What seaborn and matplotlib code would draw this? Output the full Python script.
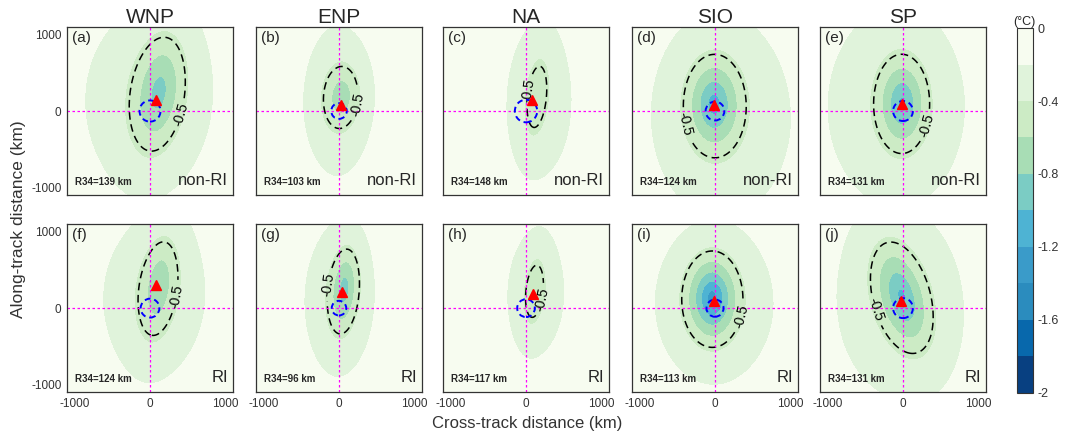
import numpy as np
import matplotlib
matplotlib.use("Agg")
import matplotlib.pyplot as plt
import seaborn as sns

sns.set_style("white")
plt.rcParams['font.family'] = ['Liberation Sans', 'DejaVu Sans']

# panel info (top row non-RI, bottom row RI)
regions = ['WNP', 'ENP', 'NA', 'SIO', 'SP']
tags = ['(a)', '(b)', '(c)', '(d)', '(e)', '(f)', '(g)', '(h)', '(i)', '(j)']
ri_labels = ['non-RI'] * 5 + ['RI'] * 5
r34_km = [139, 103, 148, 124, 131, 124, 96, 117, 113, 131]

# location of maximum cooling (red triangle), km
max_x = [76, 31, 76, -13, -9, 80, 44, 93, -18, -31]
max_y = [140, 75, 141, 75, 98, 298, 209, 187, 89, 98]

# inner cold core: amplitude (degC), centre, spreads (km), tilt of its axis
core_amp = [0.60, 0.44, 0.30, 0.80, 0.75, 0.47, 0.62, 0.30, 1.00, 0.75]
core_cx = [120, 35, 140, -15, -10, 120, 70, 110, -40, -15]
core_cy = [250, 190, 200, 90, 100, 300, 250, 230, 130, 150]
core_sx = [200, 160, 110, 200, 180, 160, 115, 100, 180, 193]
core_sy = [450, 270, 380, 332, 325, 430, 320, 330, 290, 380]
core_tilt = [0.12, 0.05, 0.1, 0.0, 0.0, 0.12, 0.08, 0.1, 0.0, -0.22]

# broad weak cooling around the core
halo_amp = [0.3] * 10
halo_cx = [-50, -20, 180, 100, -100, 45, -10, 135, 0, -50]
halo_cy = [150, 120, 120, -100, 50, 140, 100, 187, 50, 50]
halo_sx = [890, 445, 467, 1000, 1000, 730, 490, 407, 830, 900]
halo_sy = [1220, 1030, 1030, 1400, 1400, 1040, 1000, 815, 1050, 1300]

levels = np.round(np.arange(-2.0, 0.001, 0.2), 1)
colors = sns.color_palette(['#084081', '#0868ac', '#2b8cbe', '#3a9bc9', '#4eb3d3',
                            '#7bccc4', '#a8ddb5', '#ccebc5', '#e0f3db', '#f7fcf0'])

grid = np.linspace(-1100, 1100, 221)
X, Y = np.meshgrid(grid, grid)

fig = plt.figure(figsize=(10.67, 4.38), dpi=100)
lefts = [0.0628, 0.2399, 0.4152, 0.5923, 0.7685]
bottoms = [0.555, 0.105]
w, h = 0.1556, 0.383

for i in range(10):
    row, col = divmod(i, 5)
    ax = fig.add_axes([lefts[col], bottoms[row], w, h])

    xs = (X - core_cx[i] - core_tilt[i] * (Y - core_cy[i])) / core_sx[i]
    ys = (Y - core_cy[i]) / core_sy[i]
    core = core_amp[i] * np.exp(-0.5 * np.sqrt(xs ** 2 + ys ** 2) ** 1.5)
    halo = halo_amp[i] * np.exp(-0.5 * (((X - halo_cx[i]) / halo_sx[i]) ** 2 +
                                        ((Y - halo_cy[i]) / halo_sy[i]) ** 2))
    sst = np.clip(-(core + halo), -1.99, -0.001)

    cf = ax.contourf(X, Y, sst, levels=levels, colors=colors)
    # dashed line marks the -0.5 degC cooling envelope
    cs = ax.contour(X, Y, sst, levels=[-0.45], colors='k', linestyles=[(0, (5, 3))],
                    linewidths=1.1)
    ax.clabel(cs, fmt={-0.45: '-0.5'}, fontsize=10, inline=True)

    ax.axhline(0, color='#ff00ff', ls=(0, (2, 2)), lw=0.9)
    ax.axvline(0, color='#ff00ff', ls=(0, (2, 2)), lw=0.9)
    circ = plt.Circle((0, 0), r34_km[i], fill=False, ec='blue', ls=(0, (3, 2)), lw=1.4, zorder=4)
    ax.add_patch(circ)
    ax.plot(max_x[i], max_y[i], marker='^', color='red', ms=7, zorder=5)

    ax.set_xlim(-1100, 1100)
    ax.set_ylim(-1100, 1100)
    ax.set_xticks([-1000, -500, 0, 500, 1000])
    ax.set_yticks([-1000, -500, 0, 500, 1000])
    ax.set_xticklabels(['-1000', '', '0', '', '1000'] if row == 1 else [])
    ax.set_yticklabels(['-1000', '', '0', '', '1000'] if col == 0 else [])
    ax.tick_params(direction='in', length=3, width=0.8, top=True, right=True,
                   labelsize=8.5, colors='#333333', pad=4)
    for sp in ax.spines.values():
        sp.set_color('#333333')
        sp.set_linewidth(0.9)

    ax.text(0.03, 0.98, tags[i], transform=ax.transAxes, ha='left', va='top', fontsize=11)
    ax.text(0.05, 0.05, f'R34={r34_km[i]} km', transform=ax.transAxes,
            ha='left', va='bottom', fontsize=7, fontweight='bold')
    ax.text(0.97, 0.04, ri_labels[i], transform=ax.transAxes, ha='right', va='bottom', fontsize=12)
    if row == 0:
        ax.set_title(regions[col], fontsize=15, pad=2)

fig.text(0.017, 0.5, 'Along-track distance (km)', rotation=90, ha='center', va='center',
         fontsize=12.5, color='#333333')
fig.text(0.494, 0.033, 'Cross-track distance (km)', ha='center', va='center',
         fontsize=12, color='#333333')

cax = fig.add_axes([0.953, 0.103, 0.015, 0.833])
cb = fig.colorbar(cf, cax=cax, ticks=[-2, -1.6, -1.2, -0.8, -0.4, 0])
cb.ax.set_yticklabels(['-2', '-1.6', '-1.2', '-0.8', '-0.4', '0'])
cb.ax.tick_params(labelsize=9, length=0, colors='#333333')
cb.outline.set_edgecolor('#333333')
cax.set_title('(°C)', fontsize=9, pad=2)

fig.savefig('out.png', dpi=100)
